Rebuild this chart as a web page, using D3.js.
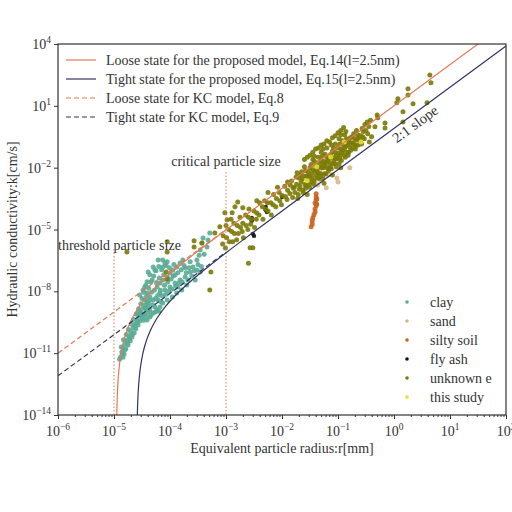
<!DOCTYPE html>
<html lang="en">
<head>
<meta charset="UTF-8">
<title>Hydraulic conductivity vs equivalent particle radius</title>
<script src="https://d3js.org/d3.v7.min.js"></script>
<style>
  body { margin: 0; padding: 0; background: #fff; }
  svg { display: block; font-family: "Liberation Serif", "DejaVu Serif", serif; }
</style>
</head>
<body>
<svg id="chart" width="512" height="512"></svg>
<script>
// values are [log10 r (mm), log10 k (cm/s)]
var clayPts = [
  [-4.88,-11.18],[-4.86,-10.94],[-4.84,-10.75],[-4.82,-11.04],[-4.80,-10.55],[-4.79,-10.80],[-4.77,-10.36],
  [-4.75,-10.60],[-4.73,-10.17],[-4.71,-10.41],[-4.70,-9.97],[-4.68,-10.21],[-4.66,-9.78],[-4.64,-10.02],
  [-4.63,-9.58],[-4.61,-9.83],[-4.59,-9.39],[-4.57,-9.63],[-4.55,-9.19],[-4.54,-9.44],[-4.52,-9.00],
  [-4.50,-9.29],[-4.48,-8.81],[-4.46,-9.10],[-4.45,-8.66],[-4.43,-8.90],[-4.41,-8.52],[-4.39,-8.71],
  [-4.85,-11.05],[-4.81,-10.85],[-4.76,-10.50],[-4.72,-10.30],[-4.67,-10.10],[-4.62,-9.70],[-4.58,-9.50],
  [-4.53,-9.10],[-4.49,-9.15],[-4.44,-8.80],
  [-4.87,-10.70],[-4.83,-10.35],[-4.78,-10.10],[-4.74,-9.85],[-4.69,-9.60],[-4.65,-9.35],[-4.60,-9.10],
  [-4.56,-8.95],[-4.90,-11.30],[-4.84,-11.20],
  [-4.13,-6.48],[-4.09,-6.62],[-4.13,-6.82],[-4.21,-6.48],[-4.30,-6.82],[-4.39,-7.06],[-4.36,-7.20],
  [-4.32,-7.45],[-4.41,-7.54],[-4.45,-7.79],[-4.48,-7.93],[-4.41,-8.08],[-4.36,-8.27],[-4.45,-8.42],
  [-4.39,-8.56],[-4.30,-8.42],[-4.27,-8.76],[-4.36,-8.90],[-4.23,-7.79],[-4.18,-7.59],[-4.13,-7.45],
  [-4.05,-7.30],[-4.00,-7.11],[-3.95,-6.96],[-3.88,-6.82],[-3.82,-6.62],[-3.77,-6.48],[-4.18,-8.08],
  [-4.09,-7.93],[-4.00,-7.79],[-3.91,-7.59],[-3.82,-7.45],[-3.73,-7.30],[-3.64,-7.06],[-4.05,-8.42],
  [-3.96,-8.27],[-3.88,-8.08],[-3.79,-7.93],[-3.70,-7.69],[-3.59,-6.82],[-3.52,-6.48],[-3.46,-5.99],
  [-3.43,-5.65],[-3.41,-5.41],[-3.29,-5.17],[-3.32,-5.51],[-3.34,-5.85],[-3.52,-6.96],[-3.55,-7.45],
  [-3.46,-7.06],[-4.30,-9.05],[-4.23,-8.90],[-4.18,-8.76],[-4.13,-8.56],[-4.36,-9.24],[-4.41,-9.39],
  [-4.05,-6.57],[-4.27,-6.96],[-3.73,-6.86],[-3.91,-7.20],[-3.64,-6.57],[-3.86,-7.79],[-4.14,-8.22],
  [-4.21,-8.42],[-4.54,-8.18],
  [-4.50,-8.35],[-4.47,-8.05],[-4.43,-7.70],[-4.42,-8.25],[-4.38,-7.85],[-4.37,-8.45],[-4.34,-7.55],
  [-4.33,-8.05],[-4.31,-8.65],[-4.29,-7.25],[-4.28,-7.95],[-4.26,-8.35],[-4.25,-7.00],[-4.24,-7.60],
  [-4.22,-8.20],[-4.20,-6.80],[-4.19,-7.35],[-4.17,-7.95],[-4.16,-8.50],[-4.15,-6.95],[-4.11,-7.20],
  [-4.10,-7.70],[-4.08,-8.15],[-4.07,-6.75],[-4.04,-7.55],[-4.02,-8.00],[-4.01,-6.85],[-3.98,-7.40],
  [-3.97,-7.90],[-3.94,-7.25],[-3.93,-6.70],[-3.90,-7.75],[-3.86,-7.10],[-3.84,-7.60],[-3.80,-6.95],
  [-3.78,-7.55],[-3.75,-6.75],[-3.71,-7.10],[-3.68,-7.45],[-3.66,-6.85],[-3.61,-7.25],[-3.57,-7.00],
  [-3.50,-6.70],[-3.48,-6.25],[-3.44,-6.80],[-3.39,-6.20],[-4.60,-9.10],[-4.56,-8.85],[-4.52,-8.60],
  [-4.47,-9.40],[-4.43,-9.20],[-4.39,-9.00],[-4.34,-9.15],[-4.26,-9.00],[-4.20,-8.95]
];
var sandPts = [
  [-1.32,-2.20],[-1.27,-2.35],[-1.41,-2.74],[-1.36,-2.84],[-1.18,-2.35],[-1.21,-2.98],[-1.02,-2.50],
  [-1.00,-2.69],[-0.79,-2.01],[-0.84,-0.65],[-0.82,-0.80],[-1.50,-2.50]
];
var siltyPts = [
  [-1.39,-3.27],[-1.39,-3.42],[-1.39,-3.56],[-1.41,-3.71],[-1.39,-3.85],[-1.41,-4.00],[-1.41,-4.15],
  [-1.43,-4.29],[-1.45,-4.44],[-1.46,-4.58],[-1.46,-4.73],[-1.48,-4.87],[-1.38,-3.52],[-1.38,-3.76]
];
var flyAshPts = [
  [-2.54,-4.44],[-2.54,-4.58],[-2.52,-5.21],[-2.50,-5.31],[-2.29,-3.90],[-2.29,-4.05],[-2.27,-4.15],[-2.00,-3.42]
];
var unknownPts = [
  [-4.77,-6.09],[-4.05,-5.60],[-4.05,-6.09],[-4.07,-7.06],[-4.05,-7.40],[-3.57,-5.55],[-3.57,-5.85],
  [-3.43,-5.65],[-3.27,-7.06],[-3.29,-7.93],[-3.20,-5.17],[-3.11,-4.87],[-3.02,-4.19],[-2.98,-4.53],
  [-2.89,-4.19],[-2.84,-3.90],[-2.79,-3.66],[-2.57,-5.89],[-2.60,-6.64],[-2.52,-5.89],
  [-3.05,-5.30],[-3.06,-5.70],[-3.00,-4.80],[-2.99,-5.40],[-3.01,-5.90],[-2.95,-5.00],[-2.94,-5.60],
  [-2.90,-5.10],[-2.91,-4.50],[-2.88,-5.60],[-2.85,-5.20],[-2.86,-4.70],[-2.80,-4.80],[-2.81,-5.50],
  [-2.78,-5.20],[-2.75,-4.40],[-2.74,-4.90],[-2.70,-4.70],[-2.71,-5.10],[-2.69,-5.40],[-2.65,-4.30],
  [-2.64,-4.80],[-2.60,-4.40],[-2.61,-5.00],[-2.59,-4.00],[-2.55,-4.50],[-2.56,-4.75],[-2.50,-4.10],
  [-2.49,-4.90],[-2.45,-4.20],[-2.46,-4.50],[-2.40,-3.70],[-2.41,-4.30],[-2.35,-3.90],[-2.34,-4.50],
  [-2.30,-4.00],[-2.31,-3.60],[-2.25,-4.10],[-2.26,-3.70],[-2.20,-3.70],[-2.19,-4.30],[-2.15,-3.30],
  [-2.16,-3.80],[-2.10,-3.50],[-2.11,-3.90],[-2.05,-3.20],[-2.04,-3.60],[-2.00,-3.35],[-2.01,-3.80],
  [-1.95,-2.90],[-1.94,-3.40],[-1.90,-3.10],[-1.91,-3.55],[-1.85,-2.85],[-1.86,-3.25],[-1.80,-3.00],
  [-1.81,-3.45],
  [-1.74,-2.80],[-1.77,-3.20],[-1.72,-3.50],[-1.70,-2.50],[-1.68,-2.90],[-1.71,-3.30],[-1.66,-2.70],
  [-1.63,-3.10],[-1.65,-2.20],[-1.61,-2.40],[-1.59,-2.80],[-1.62,-3.20],[-1.56,-2.40],[-1.54,-2.60],
  [-1.57,-2.90],[-1.50,-2.00],[-1.52,-2.40],[-1.49,-2.70],[-1.51,-2.95],[-1.45,-2.10],[-1.46,-2.50],
  [-1.44,-2.80],[-1.40,-1.90],[-1.41,-2.15],[-1.38,-2.50],[-1.35,-1.95],[-1.36,-2.25],[-1.33,-2.55],
  [-1.35,-1.50],[-1.30,-1.65],[-1.29,-2.00],[-1.31,-2.30],[-1.25,-1.70],[-1.26,-2.00],[-1.24,-2.30],
  [-1.27,-2.50],[-1.20,-1.50],[-1.21,-1.75],[-1.19,-2.00],[-1.22,-2.30],[-1.15,-1.55],[-1.14,-1.80],
  [-1.16,-2.05],[-1.10,-1.20],[-1.11,-1.50],[-1.09,-1.80],[-1.12,-2.05],[-1.05,-1.25],[-1.04,-1.55],
  [-1.06,-1.80],[-1.00,-1.05],[-0.99,-1.30],[-1.01,-1.55],[-0.98,-1.80],[-0.95,-1.10],[-0.96,-1.40],
  [-0.94,-1.65],[-0.90,-0.90],[-0.91,-1.15],[-0.89,-1.40],[-0.85,-0.60],[-0.86,-0.95],[-0.84,-1.25],
  [-0.87,-1.50],[-0.80,-0.75],[-0.79,-1.00],[-0.81,-1.25],[-0.75,-0.50],[-0.76,-0.80],[-0.74,-1.05],
  [-0.70,-0.60],[-0.71,-0.85],[-0.69,-1.10],[-0.65,-0.40],[-0.66,-0.65],[-0.64,-0.90],[-0.60,-0.45],
  [-0.61,-0.70],[-0.55,-0.25],[-0.56,-0.50],
  [-1.83,-2.65],[-1.78,-2.95],[-1.73,-2.25],[-1.69,-3.05],[-1.67,-2.35],[-1.64,-2.55],[-1.58,-2.15],
  [-1.58,-3.00],[-1.53,-2.20],[-1.53,-2.80],[-1.48,-1.85],[-1.47,-2.30],[-1.43,-2.65],[-1.42,-1.70],
  [-1.39,-2.35],[-1.37,-2.05],[-1.34,-1.75],[-1.32,-2.40],[-1.28,-1.45],[-1.28,-1.85],[-1.23,-1.90],
  [-1.23,-1.35],[-1.18,-1.65],[-1.17,-2.15],[-1.13,-1.35],[-1.13,-1.95],[-1.08,-1.05],[-1.07,-1.65],
  [-1.03,-1.40],[-1.03,-1.95],[-0.97,-0.85],[-0.97,-1.55],[-0.93,-1.25],[-0.92,-0.70],[-0.88,-1.05],
  [-0.88,-0.40],[-0.83,-0.85],[-0.82,-1.40],[-0.78,-0.55],[-0.77,-1.15],[-0.73,-0.80],[-0.72,-0.35],
  [-0.68,-0.95],[-0.67,-0.20],[-0.63,-0.55],[-0.58,-0.85],[-0.57,-0.10],[-0.53,-0.60],[-0.47,-0.35],
  [-0.44,-0.75],[-1.20,-1.05],[-1.05,-0.85],[-0.95,-0.40],[-1.30,-1.25],[-1.45,-1.60],[-1.60,-1.95],
  [-1.75,-2.45],[-1.90,-2.70],[-2.08,-2.95],[-2.25,-3.20],[-2.45,-3.60],[-2.70,-3.95],
  [-1.60,-1.60],[-1.55,-1.50],[-1.50,-1.40],[-1.45,-1.25],[-1.40,-1.10],[-1.35,-1.05],[-1.30,-0.90],
  [-1.25,-0.85],[-1.20,-0.70],[-1.15,-0.75],[-1.10,-0.55],[-1.05,-0.45],[-1.00,-0.30],[-0.95,-0.20],
  [-0.90,-0.05],[-1.42,-1.45],[-1.27,-1.10],[-1.12,-0.90],[-0.98,-0.60],[-0.86,-0.25],
  [-1.55,-3.30],[-1.25,-2.75],[-1.10,-2.35],[-0.95,-2.00],
  [-0.50,-0.20],[-0.45,0.00],[-0.40,-0.50],[-0.52,0.10],[-0.42,0.30],[-0.30,0.56],[-0.29,0.42],
  [-0.48,0.22],[-0.34,-0.02],[-0.16,0.17],[-0.16,-0.07],[0.16,0.22],[0.07,1.34],[0.05,1.15],
  [0.16,0.71],[0.34,1.10],[0.59,1.15],[0.25,1.83],[0.25,1.53],[0.64,2.50],[0.66,2.12]
];
var studyPts = [[-0.89,-0.75],[-0.59,-0.75],[-1.13,-1.48],[-1.38,-1.96],[-1.55,-2.64]];

// model curves
var looseModel = [
  [-4.953,-14.6],[-4.95,-14.02],[-4.94,-13.02],[-4.92,-12.05],[-4.90,-11.50],[-4.87,-10.94],[-4.83,-10.43],
  [-4.78,-9.98],[-4.70,-9.44],[-4.60,-8.95],[-4.50,-8.56],[-4.35,-8.07],[-4.20,-7.65],[-4.00,-7.15],
  [-3.70,-6.47],[-3.30,-5.63],[-2.80,-4.61],[-2.00,-3.00],[2.00,5.00]
];
var tightModel = [
  [-4.59,-15.08],[-4.585,-14.18],[-4.58,-13.65],[-4.57,-12.99],[-4.55,-12.22],[-4.52,-11.54],[-4.48,-10.96],
  [-4.42,-10.38],[-4.35,-9.90],[-4.25,-9.38],[-4.10,-8.80],[-3.90,-8.19],[-3.65,-7.56],[-3.35,-6.88],
  [-3.00,-6.13],[-2.50,-5.11],[-1.50,-3.10],[2.00,3.90]
];
var looseKC = [[-6, -11], [-3, -5]];
var tightKC = [[-6, -12.1], [-3, -6.1]];
var sizeMarks = [
  { name: "threshold particle size", r: -5, top: -5.9 },
  { name: "critical particle size", r: -3, top: -2.1 }
];

var xTickExps = [-6, -5, -4, -3, -2, -1, 0, 1, 2];
var yTickExps = [-14, -11, -8, -5, -2, 1, 4];
var lineLabels = [
  "Loose state for the proposed model, Eq.14(l=2.5nm)",
  "Tight state for the proposed model, Eq.15(l=2.5nm)",
  "Loose state for KC model, Eq.8",
  "Tight state for KC model, Eq.9"
];
var seriesNames = ["clay", "sand", "silty soil", "fly ash", "unknown e", "this study"];
var seriesColors = ["#5aab93", "#d9b88c", "#c9631f", "#111111", "#7b7a06", "#e2e12e"];
var seriesData = [clayPts, sandPts, siltyPts, flyAshPts, unknownPts, studyPts];

var orange = "#e3795a", navy = "#2f3466", ink = "#333";

var svg = d3.select("#chart");
var mLeft = 58, mRight = 506, mTop = 44, mBottom = 415;
var fs = 14;

var x = d3.scaleLog().domain([1e-6, 1e2]).range([mLeft, mRight]);
var y = d3.scaleLog().domain([1e-14, 1e4]).range([mBottom, mTop]);
var p10 = function(v) { return Math.pow(10, v); };

svg.append("defs").append("clipPath").attr("id", "plot")
  .append("rect").attr("x", mLeft).attr("y", mTop)
  .attr("width", mRight - mLeft).attr("height", mBottom - mTop);

// axes
var minorVals = [];
xTickExps.slice(0, -1).forEach(function(e) {
  for (var m = 2; m <= 9; m++) minorVals.push(m * p10(e));
});
svg.append("g").attr("transform", "translate(0," + mBottom + ")")
  .call(d3.axisBottom(x).tickValues(minorVals).tickSize(2).tickFormat(""))
  .call(function(g) { g.select(".domain").remove(); g.selectAll("line").attr("stroke", ink); });
svg.append("g").attr("transform", "translate(0," + mBottom + ")")
  .call(d3.axisBottom(x).tickValues(xTickExps.map(p10)).tickSize(4).tickFormat(""))
  .call(function(g) { g.select(".domain").remove(); g.selectAll("line").attr("stroke", ink); });
svg.append("g").attr("transform", "translate(" + mLeft + ",0)")
  .call(d3.axisLeft(y).tickValues(yTickExps.map(p10)).tickSize(4).tickFormat(""))
  .call(function(g) { g.select(".domain").remove(); g.selectAll("line").attr("stroke", ink); });

function powLabel(sel, e) {
  sel.append("tspan").text("10");
  sel.append("tspan").attr("dy", -6).attr("font-size", 9.5).text(String(e).replace("-", "\u2212"));
}
xTickExps.forEach(function(e) {
  svg.append("text").attr("x", x(p10(e))).attr("y", 436).attr("text-anchor", "middle")
    .attr("font-size", fs).attr("fill", ink).call(powLabel, e);
});
yTickExps.forEach(function(e) {
  svg.append("text").attr("x", mLeft - 7).attr("y", y(p10(e)) + 5).attr("text-anchor", "end")
    .attr("font-size", fs).attr("fill", ink).call(powLabel, e);
});

svg.append("text").attr("x", (mLeft + mRight) / 2).attr("y", 453).attr("text-anchor", "middle")
  .attr("font-size", fs).attr("fill", ink).text("Equivalent particle radius:r[mm]");
svg.append("text").attr("transform", "translate(17," + ((mTop + mBottom) / 2) + ") rotate(-90)")
  .attr("text-anchor", "middle").attr("font-size", fs).attr("fill", ink)
  .text("Hydraulic conductivity:k[cm/s]");

var plot = svg.append("g").attr("clip-path", "url(#plot)");

// scatter
seriesData.forEach(function(pts, i) {
  plot.append("g").selectAll("circle").data(pts).enter().append("circle")
    .attr("cx", function(d) { return x(p10(d[0])); })
    .attr("cy", function(d) { return y(p10(d[1])); })
    .attr("r", i === 3 ? 2.2 : 2.5)
    .attr("fill", seriesColors[i])
    .attr("fill-opacity", 0.9);
});

// threshold / critical size markers
sizeMarks.forEach(function(m) {
  plot.append("line")
    .attr("x1", x(p10(m.r))).attr("x2", x(p10(m.r)))
    .attr("y1", y(1e-14)).attr("y2", y(p10(m.top)))
    .attr("stroke", orange).attr("stroke-width", 1).attr("stroke-dasharray", "1.5,2");
});
svg.append("text").attr("x", mLeft).attr("y", 250).attr("font-size", fs).attr("fill", ink)
  .text(sizeMarks[0].name);
svg.append("text").attr("x", x(p10(sizeMarks[1].r))).attr("y", 166).attr("text-anchor", "middle")
  .attr("font-size", fs).attr("fill", ink).text(sizeMarks[1].name);

// model lines
var line = d3.line()
  .x(function(d) { return x(p10(d[0])); })
  .y(function(d) { return y(p10(d[1])); })
  .curve(d3.curveMonotoneX);
var lines = [
  { pts: looseModel, color: orange, dash: null },
  { pts: tightModel, color: navy, dash: null },
  { pts: looseKC, color: orange, dash: "5,3" },
  { pts: tightKC, color: navy, dash: "5,3" }
];
lines.forEach(function(l) {
  plot.append("path").attr("d", line(l.pts)).attr("fill", "none")
    .attr("stroke", l.color).attr("stroke-width", 1.2)
    .attr("stroke-dasharray", l.dash);
});

svg.append("text").attr("transform", "translate(418,128) rotate(-36.3)")
  .attr("text-anchor", "middle").attr("font-size", 14.5).attr("fill", ink).text("2:1 slope");

// frame
svg.append("rect").attr("x", mLeft).attr("y", mTop).attr("width", mRight - mLeft).attr("height", mBottom - mTop)
  .attr("fill", "none").attr("stroke", ink).attr("stroke-width", 1.2);

// line legend
lines.forEach(function(l, i) {
  var ly = 60 + i * 19;
  svg.append("line").attr("x1", 66).attr("x2", 96).attr("y1", ly).attr("y2", ly)
    .attr("stroke", l.color).attr("stroke-width", 1.2).attr("stroke-dasharray", l.dash);
  svg.append("text").attr("x", 106).attr("y", ly + 4.5).attr("font-size", fs).attr("fill", ink)
    .text(lineLabels[i]);
});

// marker legend
seriesNames.forEach(function(n, i) {
  var ly = 302 + i * 19;
  svg.append("circle").attr("cx", 407).attr("cy", ly).attr("r", 1.8).attr("fill", seriesColors[i]);
  svg.append("text").attr("x", 430).attr("y", ly + 4.5).attr("font-size", fs).attr("fill", ink).text(n);
});
</script>
</body>
</html>
